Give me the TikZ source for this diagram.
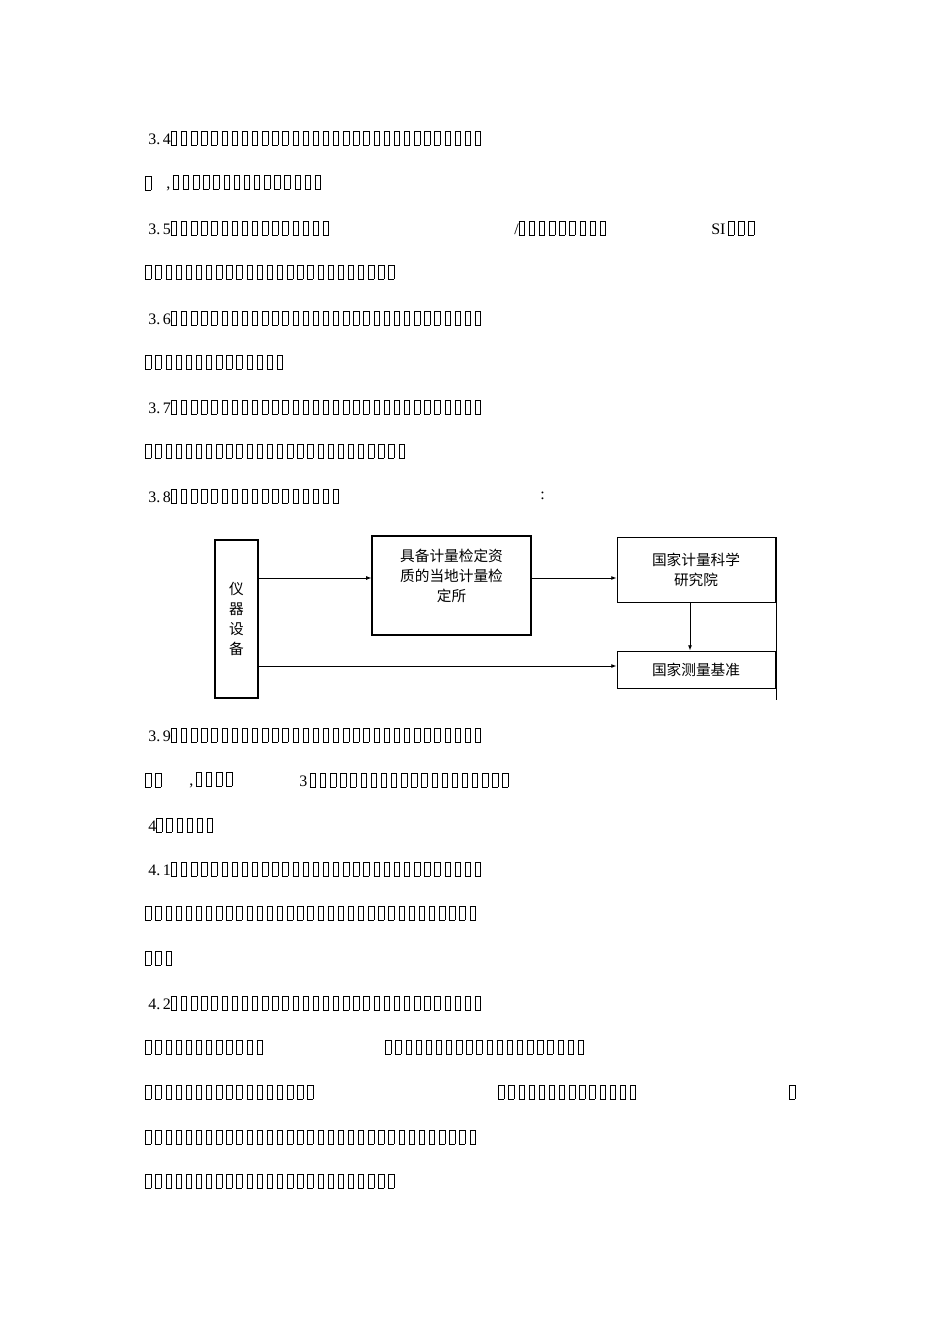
\documentclass[tikz,border=0pt]{standalone}
\usepackage{fontspec}
\setmainfont{Liberation Serif}
\newfontfamily\cjk{Noto Sans CJK SC}
\usetikzlibrary{arrows.meta}
\newcommand\bx{\makebox[7.6pt][l]{\fboxsep0pt\fboxrule0.45pt\fbox{\rule{0pt}{10pt}\hspace{3.6pt}}}}
\newcommand\bxs[1]{\foreach\i in{1,...,#1}{\bx}}
\begin{document}
\begin{tikzpicture}[x=0.75pt,y=-0.75pt,
  tl/.style={anchor=west,inner sep=0pt,font=\fontsize{12pt}{12pt}\selectfont},
  bxn/.style={draw,line width=0.8pt,inner sep=0pt},
  lab/.style={font=\cjk\fontsize{11pt}{15pt}\selectfont,align=center},
  arr/.style={-{Latex[length=4pt,width=3pt]},line width=0.7pt}]
\useasboundingbox (0,0) rectangle (950,1344);
% text lines
\node[tl] (l1) at (148,138) {3.\,4\bxs{31}};
\node[tl] (l2a) at (145,183) {\bx};
\node[tl] (l2b) at (166,183) {,\,\bxs{15}};
\node[tl] (l3a) at (148,228) {3.\,5\bxs{16}};
\node[tl] (l3b) at (514,228) {/\bxs{9}};
\node[tl] (l3c) at (711,228) {SI\,\bxs{3}};
\node[tl] (l4) at (145,272) {\bxs{25}};
\node[tl] (l5) at (148,318) {3.\,6\bxs{31}};
\node[tl] (l6) at (145,362) {\bxs{14}};
\node[tl] (l7) at (148,407) {3.\,7\bxs{31}};
\node[tl] (l8) at (145,451) {\bxs{26}};
\node[tl] (l9a) at (148,496) {3.\,8\bxs{17}};
\node[tl] (l9b) at (540,496) {:};
\node[tl] (l10) at (148,735) {3.\,9\bxs{31}};
\node[tl] (l11a) at (145,780) {\bxs{2}};
\node[tl] (l11b) at (189,780) {,\,\bxs{4}};
\node[tl] (l11c) at (299,780) {3\,\bxs{20}};
\node[tl] (l12) at (148,825) {4\bxs{6}};
\node[tl] (l13) at (148,869) {4.\,1\bxs{31}};
\node[tl] (l14) at (145,913) {\bxs{33}};
\node[tl] (l15) at (145,958) {\bxs{3}};
\node[tl] (l16) at (148,1003) {4.\,2\bxs{31}};
\node[tl] (l17a) at (145,1047) {\bxs{12}};
\node[tl] (l17b) at (385,1047) {\bxs{20}};
\node[tl] (l18a) at (145,1092) {\bxs{17}};
\node[tl] (l18b) at (498,1092) {\bxs{14}};
\node[tl] (l18c) at (789,1092) {\bx};
\node[tl] (l19) at (145,1137) {\bxs{33}};
\node[tl] (l20) at (145,1181) {\bxs{25}};
% diagram
\node[bxn,minimum width=43*0.75pt,minimum height=158*0.75pt] (a) at (236.5,619) {};
\node[lab] (al) at (a) {仪\\器\\设\\备};
\node[bxn,minimum width=159*0.75pt,minimum height=99*0.75pt] (b) at (451.5,585.5) {};
\node[lab] (bl) at (451.5,576) {具备计量检定资\\质的当地计量检\\定所};
\node[bxn,minimum width=158*0.75pt,minimum height=65*0.75pt,line width=0.6pt] (c) at (696,569.5) {};
\node[lab] (cl) at (c) {国家计量科学\\研究院};
\node[bxn,minimum width=158*0.75pt,minimum height=37*0.75pt,line width=0.6pt] (d) at (696,669.5) {};
\node[lab] (dl) at (d) {国家测量基准};
\coordinate (r1) at (776,537);
\coordinate (r2) at (776,700);
\draw[line width=0.5pt] (r1) -- (r2);
\draw[arr] (a.east |- 0,578) -- (b.west |- 0,578);
\draw[arr] (b.east |- 0,578) -- (c.west |- 0,578);
\draw[arr] (c.south -| 690,0) -- (d.north -| 690,0);
\draw[arr] (a.east |- 0,666) -- (d.west |- 0,666);
\end{tikzpicture}
\end{document}
